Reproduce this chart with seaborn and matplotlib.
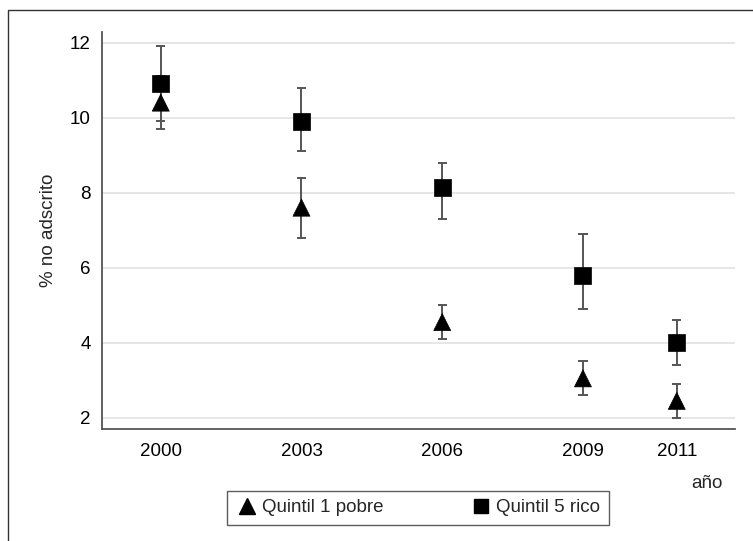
import pandas as pd
import numpy as np
import matplotlib
matplotlib.use("Agg")
import matplotlib.pyplot as plt
import seaborn as sns
from matplotlib.patches import Rectangle

# datos
anios = [2000, 2003, 2006, 2009, 2011]
q1_valor = [10.4, 7.6, 4.55, 3.05, 2.45]
q1_bajo = [9.7, 6.8, 4.1, 2.6, 2.0]
q1_alto = [11.1, 8.4, 5.0, 3.5, 2.9]
q5_valor = [10.9, 9.9, 8.15, 5.8, 4.0]
q5_bajo = [9.9, 9.1, 7.3, 4.9, 3.4]
q5_alto = [11.9, 10.8, 8.8, 6.9, 4.6]
grupos = ["Quintil 1 pobre", "Quintil 5 rico"]

df = pd.DataFrame({
    "anio": anios * 2,
    "valor": q1_valor + q5_valor,
    "bajo": q1_bajo + q5_bajo,
    "alto": q1_alto + q5_alto,
    "grupo": [grupos[0]] * 5 + [grupos[1]] * 5,
})

sns.set_theme(style="white")
plt.rcParams["font.family"] = ["Liberation Sans", "DejaVu Sans"]
fs = 13.5

fig = plt.figure(figsize=(7.53, 5.41), dpi=100)
ax = fig.add_axes([0.135, 0.207, 0.841, 0.734])

# barras de error (IC)
ax.vlines(df["anio"], df["bajo"], df["alto"], color="#555555", lw=1.4, zorder=2)
ax.hlines(df["bajo"], df["anio"] - 0.1, df["anio"] + 0.1, color="#555555", lw=1.4, zorder=2)
ax.hlines(df["alto"], df["anio"] - 0.1, df["anio"] + 0.1, color="#555555", lw=1.4, zorder=2)

sns.scatterplot(data=df, x="anio", y="valor", style="grupo",
                markers={grupos[0]: "^", grupos[1]: "s"},
                color="black", s=150, edgecolor="black", linewidth=0.5,
                ax=ax, zorder=3, legend=False)

ax.set_xlim(1998.74, 2012.24)
ax.set_ylim(1.70, 12.285)
ax.set_xticks(anios)
ax.set_yticks([2, 4, 6, 8, 10, 12])
ax.yaxis.grid(True, color="#e6e6e6", lw=1.4)
ax.set_axisbelow(True)
for s in ["top", "right"]:
    ax.spines[s].set_visible(False)
for s in ["left", "bottom"]:
    ax.spines[s].set_color("#555555")
    ax.spines[s].set_linewidth(1.3)
ax.tick_params(axis="both", direction="out", length=5, width=1, color="#555555",
               labelsize=fs, labelcolor="black", pad=3)
ax.tick_params(axis="x", pad=5)
ax.set_xlabel("")
ax.set_ylabel("% no adscrito", fontsize=fs, labelpad=9)

fig.text(707 / 753, 1 - 483 / 541, "año", fontsize=fs, ha="center", va="center")

# leyenda
h1 = plt.Line2D([], [], marker="^", color="black", ls="", markersize=11)
h2 = plt.Line2D([], [], marker="s", color="black", ls="", markersize=10)
leg = fig.legend([h1, h2], grupos, loc="center", ncol=2,
                 bbox_to_anchor=(418 / 753, 1 - 507.5 / 541), frameon=True,
                 fancybox=False, fontsize=fs, handletextpad=0.2,
                 columnspacing=4.6, handlelength=1.2, borderpad=0.45)
leg.get_frame().set_edgecolor("#333333")
leg.get_frame().set_linewidth(1.0)

# marco exterior
fig.patches.append(Rectangle((8 / 753, -0.1), 1.2, 1 - 10 / 541 + 0.1,
                             transform=fig.transFigure, fill=False,
                             edgecolor="#333333", lw=1.0))

fig.savefig("out.png", dpi=100)
